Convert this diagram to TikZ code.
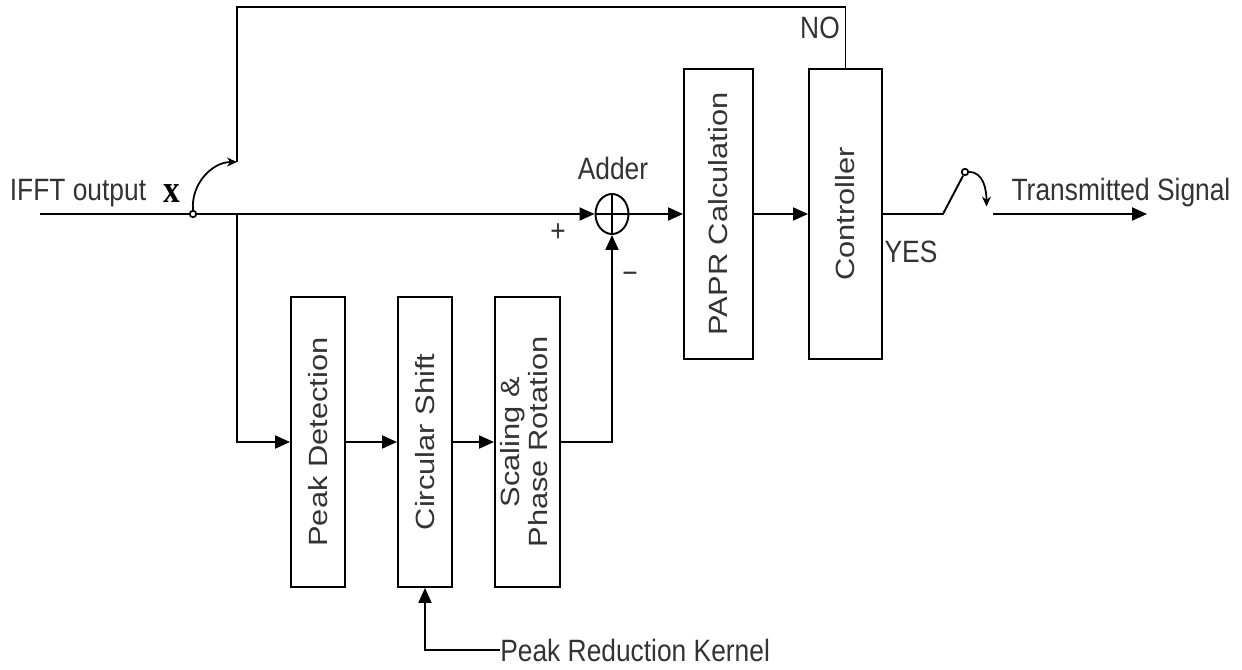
\documentclass[tikz,border=0pt]{standalone}
\usepackage{fontspec}
\setmainfont{Liberation Sans}
\newfontfamily\serifbf{Liberation Serif}
\usepackage{graphicx}
\usetikzlibrary{shapes.geometric,arrows.meta,positioning,calc}
\newcommand{\htxt}[1]{\scalebox{1}[1.17]{#1}}
\newcommand{\vtxt}[1]{\rotatebox{90}{\scalebox{1.17}[1]{#1}}}
\tikzset{
  blk/.style = {rectangle, draw=black, line width=1.1pt, minimum height=5.8cm,
                inner sep=0pt, font=\fontsize{15}{17}\selectfont, text=black!80},
  fl/.style  = {-{Triangle[length=3mm,width=2.6mm]}, line width=1.1pt},
  ln/.style  = {line width=1.1pt},
  cur/.style = {-{Stealth[length=2mm,width=1.8mm]}, line width=1pt},
  lbl/.style = {font=\fontsize{15}{17}\selectfont, text=black!80, inner sep=0pt},
  tap/.style = {circle, draw, line width=1pt, fill=white, minimum size=0.13cm, inner sep=0pt},
}
\begin{document}
\begin{tikzpicture}
  \useasboundingbox (0,0) rectangle (24.84,13.38);

  % blocks
  \node[blk, minimum width=1.08cm] (pd)   at (6.36,4.54) {\vtxt{Peak Detection}};
  \node[blk, minimum width=1.08cm] (cs)   at (8.5,4.54)  {\vtxt{Circular Shift}};
  \node[blk, minimum width=1.3cm]  (sp)   at (10.55,4.54)
    {\vtxt{\begin{tabular}{@{}c@{}}Scaling \&\\[-1pt] Phase Rotation\end{tabular}}};
  \node[blk, minimum width=1.38cm] (papr) at (14.37,9.1) {\vtxt{PAPR Calculation}};
  \node[blk, minimum width=1.46cm] (ctrl) at (16.91,9.1) {\vtxt{Controller}};

  \node[ellipse, draw, line width=1.1pt, minimum width=0.66cm, minimum height=0.8cm,
        inner sep=0pt] (add) at (12.24,9.1) {};
  \draw[ln] (add.north) -- (add.south) (add.west) -- (add.east);

  % input side
  \coordinate (in) at (0.8,9.1);
  \node[tap] (tp) at (3.86,9.1) {};
  \coordinate (br) at (4.74,9.1);
  \coordinate (fb) at (4.74,10.14);
  \coordinate (tl) at (4.74,13.24);

  % output switch
  \coordinate (sw0) at (18.86,9.1);
  \node[tap] (sw) at (19.3,9.94) {};
  \coordinate (swa) at (19.73,9.25);
  \coordinate (sw1) at (19.86,9.1);
  \coordinate (out) at (22.94,9.1);

  % labels
  \node[lbl] (lin)  at (1.56,9.52)  {\htxt{IFFT output}};
  \node[font=\fontsize{19}{21}\selectfont, inner sep=0pt] (xv) at (3.44,9.5) {\htxt{\serifbf\bfseries x}};
  \node[lbl] (ladd) at (12.26,10.02) {\htxt{Adder}};
  \node[lbl] (lpl)  at (11.16,8.72) {\htxt{+}};
  \node[lbl] (lmi)  at (12.6,7.82)  {\htxt{−}};
  \node[lbl] (lno)  at (16.4,12.82) {\htxt{NO}};
  \node[lbl] (lyes) at (18.22,8.34) {\htxt{YES}};
  \node[lbl] (lout) at (22.42,9.52) {\htxt{Transmitted Signal}};
  \node[lbl, anchor=west] (prk) at (10.0,0.38) {\htxt{Peak Reduction Kernel}};

  % connections
  \draw[ln] (in) -- (tp);
  \draw[fl] (tp) -- (add.west);
  \draw[fl] (br) |- (pd.west);
  \draw[fl] (pd) -- (cs);
  \draw[fl] (cs) -- (sp);
  \draw[fl] (sp.east) -| (add.south);
  \draw[fl] (add) -- (papr);
  \draw[fl] (papr) -- (ctrl);
  \draw[ln] (ctrl.north) |- (tl) -- (fb);
  \draw[cur] (tp.north) to[out=95,in=180] (fb);
  \draw[ln] (ctrl.east) -- (sw0) -- (sw);
  \draw[cur] (sw.east) to[out=0,in=90] (swa);
  \draw[fl] (sw1) -- (out);
  \draw[fl] (prk.west) -| (cs.south);

\end{tikzpicture}
\end{document}
